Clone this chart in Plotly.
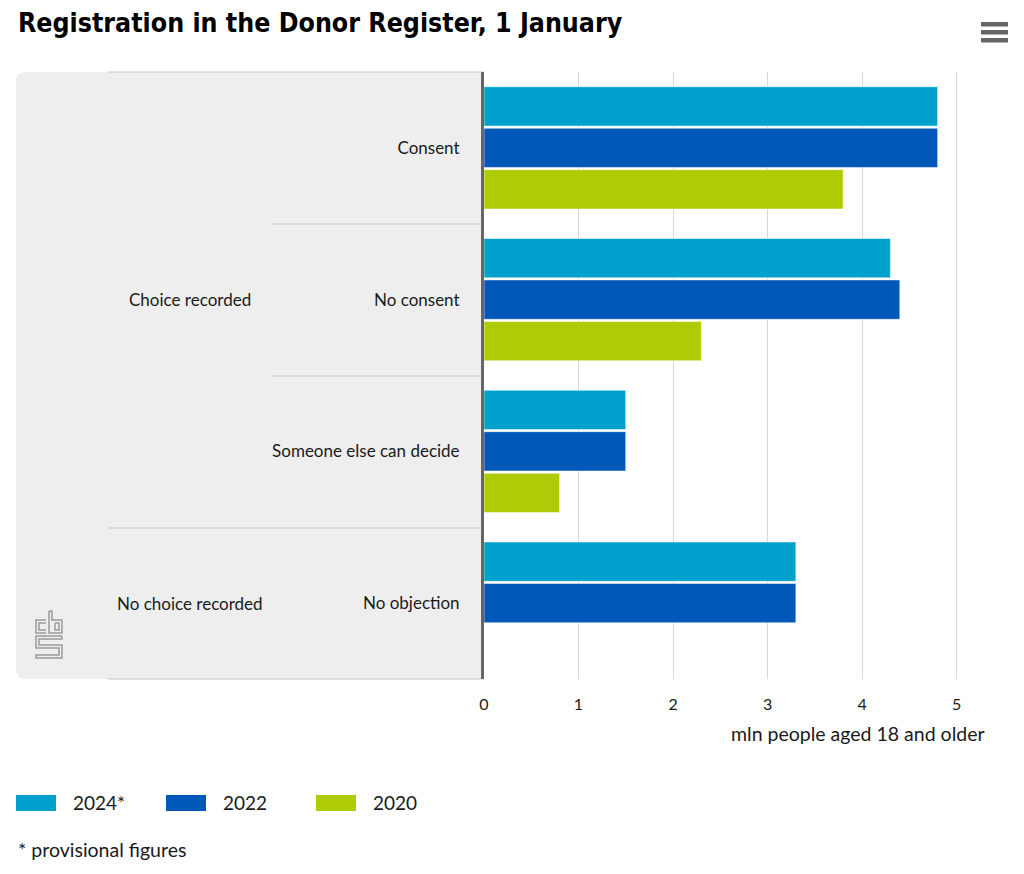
import plotly.graph_objects as go

# ---- data ----
categories = ["Consent", "No consent", "Someone else can decide", "No objection"]
groups = ["Choice recorded", "No choice recorded"]
group_center_index = [1, 3]
series_names = ["2024*", "2022", "2020"]
values_2024 = [4.8, 4.3, 1.5, 3.3]
values_2022 = [4.8, 4.4, 1.5, 3.3]
values_2020 = [3.8, 2.3, 0.8, None]
x_ticks = [0, 1, 2, 3, 4, 5]
colors = ["#00a1cd", "#0058b8", "#afcb05"]

# ---- layout constants (pixels) ----
W, H = 1024, 874
L, R, T, B = 484, 966, 72, 679
FONT = "Lato"
TXT = "#1a1a1a"


def px(p):
    return (p - L) / (R - L)


def py(p):
    return (B - p) / (B - T)


fig = go.Figure()
for name, vals, col in zip(series_names, [values_2024, values_2022, values_2020], colors):
    fig.add_trace(go.Bar(
        y=categories, x=vals, name=name, orientation="h",
        marker=dict(color=col, line=dict(color="rgba(255,255,255,0.55)", width=1)),
        showlegend=False,
    ))

shapes = []
# grey panel with rounded left corners
r = 10
path = (f"M {px(L)},{py(T)} L {px(16 + r)},{py(T)} Q {px(16)},{py(T)} {px(16)},{py(T + r)} "
        f"L {px(16)},{py(B - r)} Q {px(16)},{py(B)} {px(16 + r)},{py(B)} L {px(L)},{py(B)} Z")
shapes.append(dict(type="path", xref="paper", yref="paper", path=path,
                   fillcolor="#eeeeee", line=dict(width=0), layer="below"))
# separator lines
for (x0, yy) in [(108, T), (272, 224), (272, 376), (108, 528), (108, B)]:
    shapes.append(dict(type="line", xref="paper", yref="paper",
                       x0=px(x0), x1=px(L), y0=py(yy), y1=py(yy),
                       line=dict(color="#c8c8c8", width=1.2), layer="below"))
# menu icon
for y0 in [22, 30, 38]:
    shapes.append(dict(type="rect", xref="paper", yref="paper",
                       x0=px(981), x1=px(1008), y0=py(y0), y1=py(y0 + 4.5),
                       fillcolor="#666666", line=dict(width=0)))
# legend swatches
for i, col in enumerate(colors):
    x0 = 16 + 150 * i
    shapes.append(dict(type="rect", xref="paper", yref="paper",
                       x0=px(x0), x1=px(x0 + 40), y0=py(795), y1=py(811),
                       fillcolor=col, line=dict(width=0)))
# cbs logo (outline approximation)
logo_col = "#9a9a9a"
logo_paths = [
    # c
    [(46, 620), (36, 620), (36, 633), (46, 633)],
    [(46, 623), (39, 623), (39, 630), (46, 630)],
    # b
    [(49, 611), (49, 633), (62, 633), (62, 620), (52, 620), (52, 611), (49, 611)],
    [(55, 623), (59, 623), (59, 630), (55, 630), (55, 623)],
    # s
    [(62, 636), (36, 636), (36, 648), (59, 648), (59, 655), (36, 655), (36, 658), (62, 658),
     (62, 645), (39, 645), (39, 639), (62, 639), (62, 636)],
]
for pts in logo_paths:
    d = "M " + " L ".join(f"{px(a)},{py(b)}" for a, b in pts)
    shapes.append(dict(type="path", xref="paper", yref="paper", path=d,
                       line=dict(color=logo_col, width=1.5)))

annotations = []
annotations.append(dict(text="<b>Registration in the Donor Register, 1 January</b>",
                        xref="paper", yref="paper", x=px(16), y=py(22),
                        xanchor="left", yanchor="middle", showarrow=False,
                        font=dict(family="DejaVu Sans Condensed", size=26.5, color="#000")))
for g, ci in zip(groups, group_center_index):
    annotations.append(dict(text=g, xref="paper", yref="y", x=px(190), y=ci,
                            xanchor="center", yanchor="middle", showarrow=False,
                            font=dict(family=FONT, size=17, color=TXT)))
annotations.append(dict(text="mln people aged 18 and older", xref="paper", yref="paper",
                        x=px(987), y=py(733), xanchor="right", yanchor="middle",
                        showarrow=False, font=dict(family=FONT, size=19.5, color=TXT)))
for i, name in enumerate(series_names):
    annotations.append(dict(text=name, xref="paper", yref="paper",
                            x=px(71 + 150 * i), y=py(802), xanchor="left", yanchor="middle",
                            showarrow=False, font=dict(family=FONT, size=19, color=TXT)))
annotations.append(dict(text="* provisional figures", xref="paper", yref="paper",
                        x=px(16), y=py(849), xanchor="left", yanchor="middle",
                        showarrow=False, font=dict(family=FONT, size=19.5, color=TXT)))

fig.update_layout(
    width=W, height=H,
    margin=dict(l=L, r=W - R, t=T, b=H - B, pad=0),
    paper_bgcolor="white", plot_bgcolor="white",
    barmode="group", bargap=0.18, bargroupgap=0.05,
    shapes=shapes, annotations=annotations,
    font=dict(family=FONT, size=16, color=TXT),
    xaxis=dict(range=[0, 5.1], tickvals=x_ticks, showgrid=True, gridcolor="#d8d8d8",
               gridwidth=1, zeroline=False, showline=False, ticks="",
               tickfont=dict(family=FONT, size=16, color=TXT), ticklabelstandoff=14,
               fixedrange=True),
    yaxis=dict(type="category", categoryorder="array", categoryarray=categories,
               autorange="reversed", showgrid=False, zeroline=False,
               showline=True, linecolor="#666666", linewidth=3, ticks="",
               ticklabelstandoff=18, tickfont=dict(family=FONT, size=17, color=TXT),
               fixedrange=True),
)

fig.write_html("out.html", config={"displayModeBar": False},
               post_script="document.body.style.margin='0';")
